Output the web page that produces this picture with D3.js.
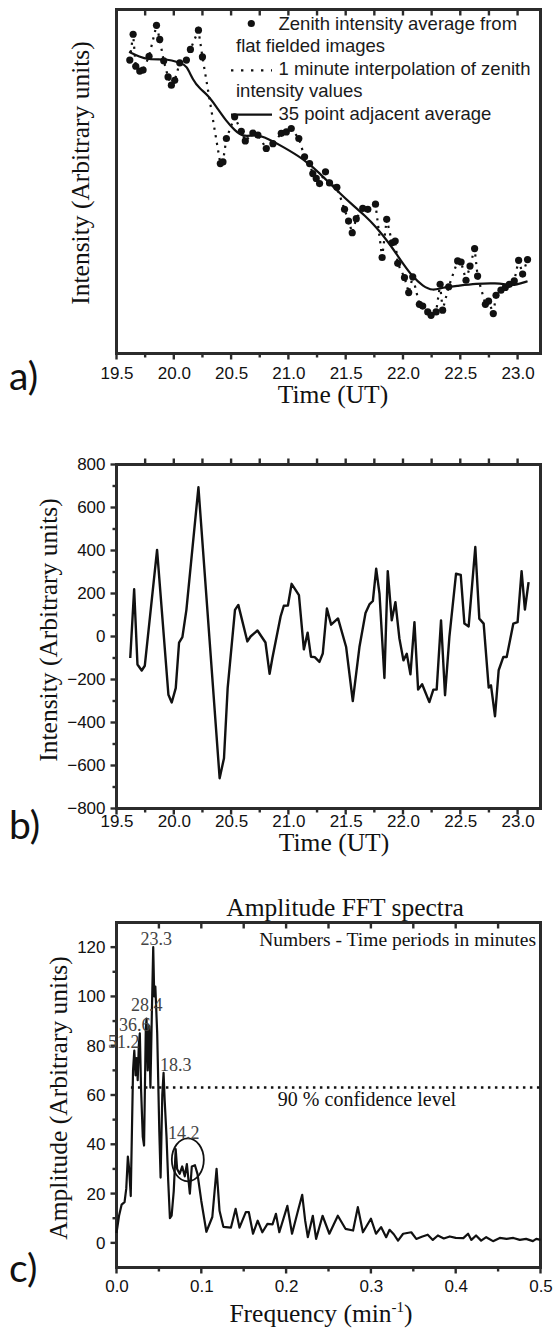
<!DOCTYPE html>
<html>
<head>
<meta charset="utf-8">
<script src="https://cdn.jsdelivr.net/npm/d3@7"></script>
<style>
  body { margin: 0; background: #fff; }
  .tick text { font-family: "Liberation Sans", Arial, sans-serif; font-size: 17px; }
  .title { font-family: "Liberation Serif", "Times New Roman", serif; fill: #111; }
  .legend { font-family: "Liberation Sans", Arial, sans-serif; font-size: 18.5px; fill: #1a1a1a; }
  .panel { font-family: Lato, "Open Sans", sans-serif; font-size: 39px; fill: #111; }
</style>
</head>
<body>
<svg id="fig" width="553" height="1330"></svg>
<script>
//////////////////////// data ////////////////////////

// shared time axis (UT hours)
const timeTicks = [19.5, 20.0, 20.5, 21.0, 21.5, 22.0, 22.5, 23.0];

// a) zenith intensity average from flat fielded images [UT, arbitrary]
const zenithPoints = [
  [19.616, 85.3], [19.645, 92.8], [19.668, 83.5], [19.703, 82.1], [19.732, 82.4],
  [19.784, 86.4], [19.849, 95.4], [19.877, 91.3], [19.912, 85.1], [19.950, 80.4],
  [19.979, 78.0], [20.008, 79.4], [20.052, 84.5], [20.110, 85.3], [20.145, 88.4],
  [20.215, 94.0], [20.250, 86.2], [20.406, 55.2], [20.429, 55.7], [20.459, 62.5],
  [20.531, 68.8], [20.589, 64.6], [20.624, 61.8], [20.690, 64.1], [20.734, 63.5],
  [20.807, 59.6], [20.865, 61.0], [20.938, 64.0], [20.982, 64.4], [21.025, 65.4],
  [21.091, 62.5], [21.141, 57.2], [21.185, 55.2], [21.213, 52.3], [21.243, 50.9],
  [21.272, 49.4], [21.324, 52.8], [21.359, 49.6], [21.423, 48.3], [21.490, 41.9],
  [21.525, 38.5], [21.557, 35.1], [21.592, 39.2], [21.649, 42.2], [21.693, 41.9],
  [21.760, 43.4], [21.818, 27.9], [21.858, 39.0], [21.905, 32.2], [21.932, 32.7],
  [21.954, 26.2], [22.013, 22.1], [22.050, 17.7], [22.085, 22.3], [22.143, 14.3],
  [22.172, 13.8], [22.216, 12.1], [22.245, 11.1], [22.289, 12.1], [22.324, 20.1],
  [22.346, 12.6], [22.399, 19.4], [22.477, 26.9], [22.507, 26.6], [22.550, 21.3],
  [22.585, 25.4], [22.625, 30.5], [22.651, 22.5], [22.719, 14.3], [22.747, 15.2],
  [22.788, 11.6], [22.812, 16.9], [22.855, 18.4], [22.893, 19.2], [22.928, 20.1],
  [22.971, 21.1], [23.009, 27.1], [23.044, 23.1], [23.087, 27.3]
];

// a) 35 point adjacent average
const smoothPoints = [
  [19.610, 87.7], [19.703, 86.2], [19.775, 85.5], [19.906, 85.5], [19.979, 85.3],
  [20.066, 84.3], [20.110, 83.8], [20.168, 79.4], [20.226, 77.0], [20.298, 75.1],
  [20.372, 71.7], [20.459, 67.5], [20.531, 64.9], [20.603, 63.0], [20.690, 63.5],
  [20.778, 63.3], [20.952, 60.1], [21.126, 56.7], [21.272, 52.5], [21.417, 47.5],
  [21.592, 42.2], [21.664, 40.2], [21.766, 36.8], [21.882, 32.0], [21.998, 26.2],
  [22.085, 22.3], [22.172, 19.6], [22.259, 18.2], [22.346, 19.2], [22.463, 19.6],
  [22.637, 20.3], [22.812, 20.5], [22.928, 19.9], [22.986, 19.9], [23.087, 21.0]
];

// b) detrended intensity [UT, arbitrary]
const residTicks = [-800, -600, -400, -200, 0, 200, 400, 600, 800];
const residPoints = [
  [19.620, -100], [19.654, 220], [19.683, -130], [19.720, -158], [19.747, -136],
  [19.854, 403], [19.953, -271], [19.982, -307], [20.017, -240], [20.046, -28],
  [20.075, -3], [20.110, 124], [20.215, 694], [20.400, -659], [20.438, -566],
  [20.470, -240], [20.534, 124], [20.563, 147], [20.642, -23], [20.670, 0],
  [20.730, 28], [20.800, -28], [20.836, -174], [20.860, -101], [20.932, 93],
  [20.960, 143], [20.996, 144], [21.028, 245], [21.092, 192], [21.135, -60],
  [21.168, 18], [21.197, -94], [21.230, -96], [21.271, -118], [21.300, -79],
  [21.336, 130], [21.373, 55], [21.433, 84], [21.504, -49], [21.562, -300],
  [21.620, -49], [21.673, 109], [21.707, 149], [21.737, 165], [21.766, 315],
  [21.795, 199], [21.838, -193], [21.867, 304], [21.902, 75], [21.934, 160],
  [21.969, -10], [22.004, -111], [22.033, -80], [22.065, -176], [22.100, 67],
  [22.132, -247], [22.167, -222], [22.230, -305], [22.265, -247], [22.294, -247],
  [22.332, 75], [22.367, -273], [22.405, -2], [22.463, 292], [22.504, 287],
  [22.536, 60], [22.573, 47], [22.631, 416], [22.666, 83], [22.704, 60],
  [22.748, -238], [22.768, -227], [22.803, -371], [22.835, -157], [22.876, -95],
  [22.905, -95], [22.963, 60], [23.000, 67], [23.035, 304], [23.064, 125],
  [23.096, 253]
];

// c) amplitude FFT spectrum [min^-1, arbitrary]
const freqTicks = [0.0, 0.1, 0.2, 0.3, 0.4, 0.5];
const ampTicks = [0, 20, 40, 60, 80, 100, 120];
const spectrum = [
  [0, 4], [0.003, 11], [0.006, 15.5], [0.0095, 16.5], [0.0115, 22], [0.0134, 35],
  [0.0149, 30], [0.0168, 19], [0.0195, 70], [0.021, 78], [0.0225, 68], [0.0238, 75],
  [0.025, 66], [0.0263, 80], [0.0275, 85], [0.029, 62], [0.031, 43], [0.0325, 39.5],
  [0.0345, 86], [0.0354, 91], [0.0368, 70], [0.0385, 88], [0.040, 63], [0.0418, 95],
  [0.0433, 120], [0.0445, 100], [0.0458, 104], [0.048, 85], [0.0505, 45], [0.052, 26.5],
  [0.054, 60], [0.0555, 69], [0.0568, 58], [0.059, 43], [0.061, 25], [0.063, 10],
  [0.065, 11], [0.0675, 21], [0.0698, 38], [0.0715, 30], [0.0745, 28], [0.0775, 31],
  [0.0805, 27], [0.083, 32], [0.0865, 20], [0.0888, 31], [0.0925, 31.5], [0.0955, 28],
  [0.100, 17], [0.106, 4.5], [0.113, 10.5], [0.118, 30], [0.1215, 13], [0.126, 6.5],
  [0.135, 6.2], [0.1405, 13.8], [0.145, 6.2], [0.1525, 12.5], [0.156, 12.5], [0.161, 3.7],
  [0.1665, 9], [0.172, 4.3], [0.178, 7.7], [0.184, 7.5], [0.188, 11.8], [0.192, 4.3],
  [0.2015, 15], [0.207, 3.7], [0.214, 13], [0.219, 19.5], [0.2225, 9], [0.2256, 2.3],
  [0.2315, 11], [0.2354, 1.6], [0.243, 11], [0.251, 3.7], [0.261, 11], [0.270, 5.7],
  [0.279, 5], [0.2846, 14.5], [0.2906, 4.3], [0.300, 9.8], [0.306, 3.7], [0.312, 6.4],
  [0.318, 2.3], [0.322, 5.3], [0.327, 3.5], [0.332, 0.9], [0.338, 3.7], [0.3476, 4.3],
  [0.3535, 1.6], [0.360, 2.5], [0.367, 3.3], [0.373, 1.2], [0.379, 3], [0.386, 1.8],
  [0.393, 2.6], [0.400, 2], [0.409, 1.9], [0.4146, 3.7], [0.4185, 1.2], [0.424, 3],
  [0.430, 0.9], [0.436, 2.3], [0.444, 0.7], [0.452, 2], [0.460, 1.6], [0.468, 2],
  [0.4756, 1.2], [0.483, 1.6], [0.491, 0.7], [0.495, 1.6], [0.500, 1.2]
];
// period labels (minutes) at [freq, amp] of their baseline centre
const periodLabels = ["51.2", "36.6", "28.4", "23.3", "18.3", "14.2"];
const periodPos = [[0.0086, 79.0], [0.0216, 86.0], [0.0357, 94.0], [0.047, 120.8], [0.0699, 69.8], [0.0793, 42.1]];
const confidenceLevel = 63;
const confidenceStart = 0.017;
const circledPeak = [0.0841, 33.7];

//////////////////////// layout ////////////////////////
const svg = d3.select("#fig");
const L = 116.5, R = 540.5;
const ink = "#111", axisInk = "#2b2b2b";

const xT = d3.scaleLinear().domain([19.5, 23.2]).range([L, R]);
const xF = d3.scaleLinear().domain([0, 0.5]).range([L, R]);
const yA = d3.scaleLinear().domain([0, 100]).range([353.5, 9.5]);
const yB = d3.scaleLinear().domain([-800, 800]).range([808.5, 464.5]);
const yC = d3.scaleLinear().domain([-10, 130]).range([1267.5, 922.5]);

// plot box and tick marks
function box(y) {
  const [y0, y1] = y.range();
  svg.append("rect")
    .attr("x", L).attr("y", y1).attr("width", R - L).attr("height", y0 - y1)
    .attr("fill", "none").attr("stroke", axisInk).attr("stroke-width", 3);
}
function hTicks(x, y0, vals, len) {
  svg.append("g").selectAll("line").data(vals).join("line")
    .attr("x1", d => x(d)).attr("x2", d => x(d))
    .attr("y1", y0).attr("y2", y0 + len)
    .attr("stroke", axisInk).attr("stroke-width", 2.4);
}
function vTicks(y, vals, len) {
  svg.append("g").selectAll("line").data(vals).join("line")
    .attr("y1", d => y(d)).attr("y2", d => y(d))
    .attr("x1", L).attr("x2", L - len)
    .attr("stroke", axisInk).attr("stroke-width", 2.4);
}
// tick labels through d3 axes (marks drawn by the helpers above)
function bottomLabels(x, y0, vals, fmt, off) {
  svg.append("g").attr("transform", `translate(0,${y0})`)
    .call(d3.axisBottom(x).tickValues(vals).tickFormat(fmt).tickSize(0).tickPadding(off))
    .call(a => a.select(".domain").remove())
    .call(a => a.selectAll(".tick line").remove())
    .selectAll("text").style("fill", ink);
}
function leftLabels(y, vals) {
  svg.append("g").attr("transform", `translate(${L},0)`)
    .call(d3.axisLeft(y).tickValues(vals).tickSize(0).tickPadding(11))
    .call(a => a.select(".domain").remove())
    .call(a => a.selectAll(".tick line").remove())
    .selectAll("text").style("fill", ink);
}
function ytitle(txt, x, y) {
  svg.append("text").attr("class", "title").attr("font-size", 25.5)
    .attr("transform", `translate(${x},${y}) rotate(-90)`)
    .attr("text-anchor", "middle").text(txt);
}
function xtitle(txt, x, y) {
  return svg.append("text").attr("class", "title").attr("font-size", 25.5)
    .attr("x", x).attr("y", y).attr("text-anchor", "middle").text(txt);
}

const quarterTicks = d3.range(19.75, 23.01, 0.25);
const timeMinor = quarterTicks.filter(d => !timeTicks.includes(d));
const fmt1 = d3.format(".1f");

/////////////// panel a ///////////////
box(yA);
hTicks(xT, yA.range()[0], timeTicks, 6);
hTicks(xT, yA.range()[0], timeMinor, 4);
hTicks(xT, yA.range()[1], quarterTicks, 6);
bottomLabels(xT, yA.range()[0], timeTicks, fmt1, 13);

const lineA = d3.line().x(d => xT(d[0])).y(d => yA(d[1]));
svg.append("path").datum(zenithPoints)
  .attr("d", lineA).attr("fill", "none").attr("stroke", ink)
  .attr("stroke-width", 2.2).attr("stroke-dasharray", "2.2,5.5");
svg.append("path").datum(smoothPoints)
  .attr("d", lineA.curve(d3.curveBasis)).attr("fill", "none")
  .attr("stroke", ink).attr("stroke-width", 2.2);
svg.append("g").selectAll("circle").data(zenithPoints).join("circle")
  .attr("cx", d => xT(d[0])).attr("cy", d => yA(d[1])).attr("r", 3.6).attr("fill", ink);

// legend
svg.append("circle").attr("cx", 251.3).attr("cy", 23.5).attr("r", 3.6).attr("fill", ink);
svg.append("line").attr("x1", 231).attr("x2", 272).attr("y1", 70.4).attr("y2", 70.4)
  .attr("stroke", ink).attr("stroke-width", 2.4).attr("stroke-dasharray", "2.4,7.6");
svg.append("line").attr("x1", 231).attr("x2", 272).attr("y1", 114.6).attr("y2", 114.6)
  .attr("stroke", ink).attr("stroke-width", 2.2);
[["Zenith intensity average from", 278.5, 29.5], ["flat fielded images", 236, 52],
 ["1 minute interpolation of zenith", 278.5, 75], ["intensity values", 236, 97.3],
 ["35 point adjacent average", 278.5, 119.5]].forEach(([t, x, y]) =>
  svg.append("text").attr("class", "legend").attr("x", x).attr("y", y).text(t));

ytitle("Intensity (Arbitrary units)", 89, 173);
xtitle("Time (UT)", 333, 403);
svg.append("text").attr("class", "panel").attr("x", 9).attr("y", 390).text("a)");

/////////////// panel b ///////////////
box(yB);
hTicks(xT, yB.range()[0], timeTicks, 6);
hTicks(xT, yB.range()[0], timeMinor, 4);
hTicks(xT, yB.range()[1], quarterTicks, -6);
vTicks(yB, residTicks, 6);
vTicks(yB, d3.range(-700, 800, 200), 4);
bottomLabels(xT, yB.range()[0], timeTicks, fmt1, 6);
leftLabels(yB, residTicks);
svg.append("path").datum(residPoints)
  .attr("d", d3.line().x(d => xT(d[0])).y(d => yB(d[1])))
  .attr("fill", "none").attr("stroke", ink).attr("stroke-width", 2.4)
  .attr("stroke-linejoin", "round");
ytitle("Intensity (Arbitrary units)", 57, 630);
xtitle("Time (UT)", 334, 851);
svg.append("text").attr("class", "panel").attr("x", 9).attr("y", 839).text("b)");

/////////////// panel c ///////////////
box(yC);
hTicks(xF, yC.range()[0], freqTicks, 6);
hTicks(xF, yC.range()[0], d3.range(0.05, 0.5, 0.1), 4);
hTicks(xF, yC.range()[1], d3.range(0.05, 0.5, 0.05), 6);
vTicks(yC, ampTicks, 6);
vTicks(yC, d3.range(10, 130, 20), 4);
bottomLabels(xF, yC.range()[0], freqTicks, fmt1, 12);
leftLabels(yC, ampTicks);

svg.append("line")
  .attr("x1", xF(confidenceStart)).attr("x2", xF(0.5))
  .attr("y1", yC(confidenceLevel)).attr("y2", yC(confidenceLevel))
  .attr("stroke", ink).attr("stroke-width", 2.5).attr("stroke-dasharray", "2.5,4.5");
svg.append("path").datum(spectrum)
  .attr("d", d3.line().x(d => xF(d[0])).y(d => yC(d[1])))
  .attr("fill", "none").attr("stroke", ink).attr("stroke-width", 2.2)
  .attr("stroke-linejoin", "round");
svg.append("ellipse")
  .attr("cx", xF(circledPeak[0])).attr("cy", yC(circledPeak[1]))
  .attr("rx", 16).attr("ry", 21.5)
  .attr("fill", "none").attr("stroke", ink).attr("stroke-width", 1.8);
svg.append("g").selectAll("text").data(periodLabels).join("text")
  .attr("class", "title").attr("font-size", 18).style("fill", "#444")
  .attr("text-anchor", "middle")
  .attr("x", (d, i) => xF(periodPos[i][0])).attr("y", (d, i) => yC(periodPos[i][1]))
  .text(d => d);

svg.append("text").attr("class", "title").attr("font-size", 25.5)
  .attr("x", 345).attr("y", 916).attr("text-anchor", "middle").text("Amplitude FFT spectra");
svg.append("text").attr("class", "title").attr("font-size", 19.5)
  .attr("x", 536).attr("y", 946).attr("text-anchor", "end").text("Numbers - Time periods in minutes");
svg.append("text").attr("class", "title").attr("font-size", 20)
  .attr("x", 367).attr("y", 1106).attr("text-anchor", "middle").text("90 % confidence level");

ytitle("Amplitude (Arbitrary units)", 67, 1098);
const ft = xtitle("Frequency (min", 321, 1322);
ft.append("tspan").attr("font-size", 15).attr("dy", -10).text("-1");
ft.append("tspan").attr("dy", 10).text(")");
svg.append("text").attr("class", "panel").attr("x", 9).attr("y", 1282).text("c)");
</script>
</body>
</html>
